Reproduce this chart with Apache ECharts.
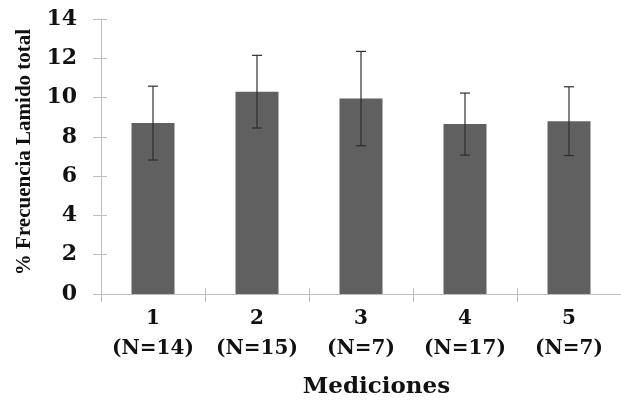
<!DOCTYPE html>
<html>
<head>
<meta charset="utf-8">
<script src="https://cdn.jsdelivr.net/npm/echarts@6/dist/echarts.min.js"></script>
<style>
html,body{margin:0;padding:0;background:#fff;}
#chart{width:621px;height:405px;}
</style>
</head>
<body>
<div id="chart"></div>
<script>
const mediciones = ['1', '2', '3', '4', '5'];
const sampleSizes = [14, 15, 7, 17, 7];
const meanValues = [8.7, 10.3, 9.95, 8.65, 8.8];
const errorValues = [1.88, 1.85, 2.4, 1.58, 1.75];
const yTicks = [0, 2, 4, 6, 8, 10, 12, 14];

const categoryLabels = mediciones.map((m, i) => m + '\n(N=' + sampleSizes[i] + ')');
const errorData = meanValues.map((v, i) => [i, v - errorValues[i], v + errorValues[i]]);

const axisGray = '#bdbdbd';
const serifWide = '"DejaVu Serif", serif';
const serifTimes = '"Liberation Serif", "Times New Roman", serif';

const chart = echarts.init(document.getElementById('chart'), null, {renderer: 'canvas'});
chart.setOption({
  animation: false,
  backgroundColor: '#ffffff',
  grid: {left: 101, top: 19, width: 523, height: 275, containLabel: false},
  xAxis: [{
    type: 'category',
    data: categoryLabels,
    position: 'bottom',
    axisLine: {show: true, lineStyle: {color: axisGray, width: 1}},
    axisTick: {show: true, length: 8, lineStyle: {color: axisGray}},
    axisLabel: {
      margin: 10, color: '#111', fontFamily: serifWide, fontWeight: 'bold',
      fontSize: 20, lineHeight: 30, interval: 0
    },
    name: 'Mediciones',
    nameLocation: 'middle',
    nameGap: 82,
    nameTextStyle: {
      color: '#111', fontFamily: serifWide, fontWeight: 'bold', fontSize: 23,
      padding: [0, 0, 0, 31]
    }
  }, {
    type: 'category',
    data: categoryLabels,
    position: 'bottom',
    axisLine: {show: false},
    axisTick: {show: true, inside: true, length: 6, lineStyle: {color: axisGray}},
    axisLabel: {show: false}
  }],
  yAxis: [{
    type: 'value',
    min: yTicks[0],
    max: yTicks[yTicks.length - 1],
    interval: yTicks[1] - yTicks[0],
    position: 'left',
    splitLine: {show: false},
    axisLine: {show: true, lineStyle: {color: axisGray, width: 1}},
    axisTick: {show: true, length: 8, lineStyle: {color: axisGray}},
    axisLabel: {
      margin: 24, color: '#111', fontFamily: serifWide, fontWeight: 'bold', fontSize: 22
    },
    name: '% Frecuencia Lamido total',
    nameLocation: 'middle',
    nameGap: 66,
    nameTextStyle: {
      color: '#111', fontFamily: serifTimes, fontWeight: 'bold', fontSize: 21,
      padding: [0, 0, 0, 9]
    }
  }, {
    type: 'value',
    min: yTicks[0],
    max: yTicks[yTicks.length - 1],
    interval: yTicks[1] - yTicks[0],
    position: 'left',
    splitLine: {show: false},
    axisLine: {show: false},
    axisTick: {show: true, inside: true, length: 6, lineStyle: {color: axisGray}},
    axisLabel: {show: false}
  }],
  series: [{
    type: 'bar',
    xAxisIndex: 0,
    yAxisIndex: 0,
    data: meanValues,
    barWidth: 43,
    itemStyle: {color: '#606060'}
  }, {
    type: 'custom',
    xAxisIndex: 0,
    yAxisIndex: 0,
    data: errorData,
    z: 10,
    renderItem: function (params, api) {
      const x = api.value(0);
      const lo = api.coord([x, api.value(1)]);
      const hi = api.coord([x, api.value(2)]);
      const half = 5;
      const style = {stroke: '#2e2e2e', lineWidth: 1.2};
      return {
        type: 'group',
        children: [
          {type: 'line', shape: {x1: hi[0], y1: hi[1], x2: lo[0], y2: lo[1]}, style: style},
          {type: 'line', shape: {x1: hi[0] - half, y1: hi[1], x2: hi[0] + half, y2: hi[1]}, style: style},
          {type: 'line', shape: {x1: lo[0] - half, y1: lo[1], x2: lo[0] + half, y2: lo[1]}, style: style}
        ]
      };
    }
  }]
});
</script>
</body>
</html>
